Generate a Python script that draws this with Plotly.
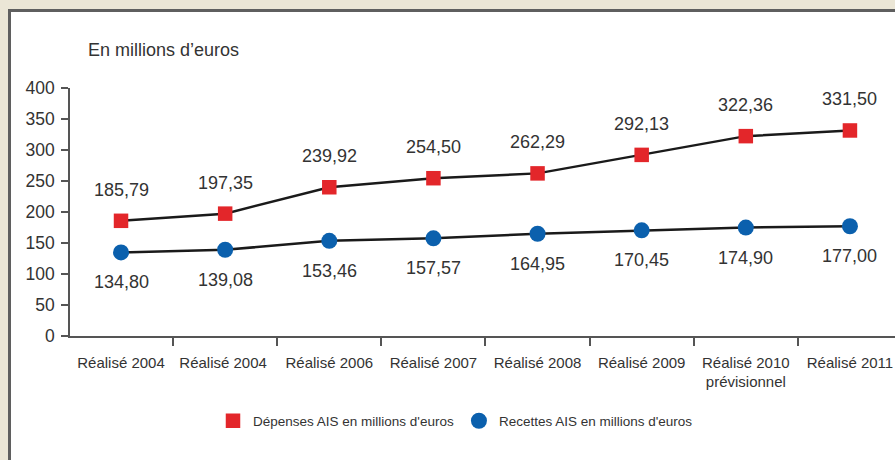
import plotly.graph_objects as go

categories = ["Réalisé 2004", "Réalisé 2004 ", "Réalisé 2006", "Réalisé 2007",
              "Réalisé 2008", "Réalisé 2009", "Réalisé 2010<br>prévisionnel", "Réalisé 2011"]
depenses = [185.79, 197.35, 239.92, 254.50, 262.29, 292.13, 322.36, 331.50]
recettes = [134.80, 139.08, 153.46, 157.57, 164.95, 170.45, 174.90, 177.00]
depenses_labels = ["185,79", "197,35", "239,92", "254,50", "262,29", "292,13", "322,36", "331,50"]
recettes_labels = ["134,80", "139,08", "153,46", "157,57", "164,95", "170,45", "174,90", "177,00"]
y_ticks = [0, 50, 100, 150, 200, 250, 300, 350, 400]

W, H = 895, 460
ML, MR, MT, MB = 70, 0, 88, 124
PW, PH = W - ML - MR, H - MT - MB

def px(x):
    return (x - ML) / PW

def py(y):
    return (H - MB - y) / PH

RED = "#e3262a"
BLUE = "#0b60ad"
TXT = "#333333"
FONT = "Liberation Sans, Arial, sans-serif"

fig = go.Figure()
fig.add_trace(go.Scatter(x=categories, y=depenses, mode="lines",
                         line=dict(color="#1a1a1a", width=2.5), showlegend=False, hoverinfo="skip"))
fig.add_trace(go.Scatter(x=categories, y=recettes, mode="lines",
                         line=dict(color="#1a1a1a", width=2.5), showlegend=False, hoverinfo="skip"))
fig.add_trace(go.Scatter(x=categories, y=depenses, mode="markers", name="Dépenses AIS en millions d'euros",
                         marker=dict(symbol="square", size=14.5, color=RED)))
fig.add_trace(go.Scatter(x=categories, y=recettes, mode="markers", name="Recettes AIS en millions d'euros",
                         marker=dict(symbol="circle", size=16, color=BLUE)))

annotations = []
for c, v, t in zip(categories, depenses, depenses_labels):
    annotations.append(dict(x=c, y=v, text=t, showarrow=False, yshift=31, yanchor="middle",
                            font=dict(size=18, color=TXT, family=FONT)))
for c, v, t in zip(categories, recettes, recettes_labels):
    annotations.append(dict(x=c, y=v, text=t, showarrow=False, yshift=-30, yanchor="middle",
                            font=dict(size=18, color=TXT, family=FONT)))
annotations.append(dict(xref="paper", yref="paper", x=px(86), y=py(50), xanchor="left", yanchor="middle",
                        text="En millions d’euros", showarrow=False,
                        font=dict(size=18, color=TXT, family=FONT)))

BEIGE = "#ebe6d6"
shapes = [
    dict(type="rect", xref="paper", yref="paper", x0=px(0), x1=px(W), y0=py(9), y1=py(0),
         fillcolor=BEIGE, line=dict(width=0), layer="below"),
    dict(type="rect", xref="paper", yref="paper", x0=px(0), x1=px(8), y0=py(H), y1=py(0),
         fillcolor=BEIGE, line=dict(width=0), layer="below"),
    dict(type="line", xref="paper", yref="paper", x0=px(8), x1=px(W), y0=py(10.5), y1=py(10.5),
         line=dict(color="#5f5f5f", width=3)),
    dict(type="line", xref="paper", yref="paper", x0=px(9.5), x1=px(9.5), y0=py(9), y1=py(H),
         line=dict(color="#5f5f5f", width=3)),
]

fig.update_layout(
    width=W, height=H,
    margin=dict(l=ML, r=MR, t=MT, b=MB, autoexpand=False),
    paper_bgcolor="white", plot_bgcolor="white",
    font=dict(family=FONT, color=TXT),
    annotations=annotations, shapes=shapes,
    showlegend=True,
    legend=dict(orientation="h", x=px(213), y=py(421), xanchor="left", yanchor="middle",
                font=dict(size=13.5, color=TXT, family=FONT), bgcolor="rgba(0,0,0,0)"),
    xaxis=dict(type="category", range=[-0.49, -0.5 + PW / 104.0], showline=True, linecolor="#555555",
               linewidth=1.5, ticks="outside", tickson="boundaries", ticklen=8, tickcolor="#555555",
               tickwidth=1.5, showgrid=False, zeroline=False, tickfont=dict(size=15, color=TXT),
               ticklabelstandoff=12, tickangle=0, automargin=False),
    yaxis=dict(range=[0, 400], tickvals=y_ticks, showline=True, linecolor="#555555", linewidth=1.5,
               ticks="outside", ticklen=7, tickcolor="#555555", tickwidth=1.5, showgrid=False,
               zeroline=False, tickfont=dict(size=17.5, color=TXT), ticklabelstandoff=3,
               automargin=False),
)

fig.write_html("out.html")
